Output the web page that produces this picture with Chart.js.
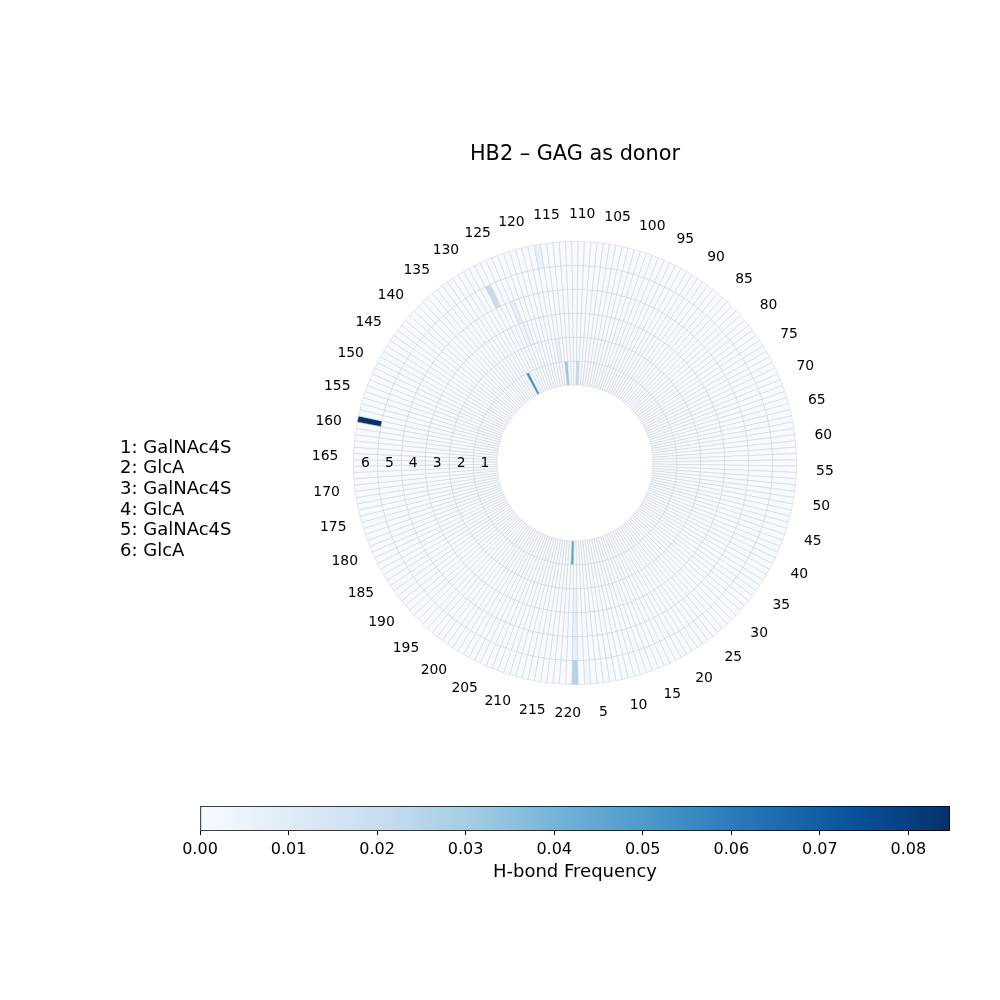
<!DOCTYPE html>
<html><head><meta charset="utf-8">
<script src="https://cdn.jsdelivr.net/npm/chart.js@4.4.1/dist/chart.umd.min.js"></script>
<style>
html,body{margin:0;padding:0;background:#fff;}
#wrap{position:relative;width:1000px;height:1000px;}
canvas{position:absolute;left:0;top:0;}
</style>
</head><body>
<div id="wrap"><canvas id="polar" width="1000" height="1000"></canvas><canvas id="cbar" width="1000" height="1000"></canvas></div>
<script>
// ---------------- data ----------------
const chartTitle = 'HB2 – GAG as donor';
const ringIds = [1, 2, 3, 4, 5, 6];
const ringNames = ['1: GalNAc4S', '2: GlcA', '3: GalNAc4S', '4: GlcA', '5: GalNAc4S', '6: GlcA'];
const nResidues = 220;
const angleTickLabels = [5, 10, 15, 20, 25, 30, 35, 40, 45, 50, 55, 60, 65, 70, 75, 80, 85, 90, 95, 100,
  105, 110, 115, 120, 125, 130, 135, 140, 145, 150, 155, 160, 165, 170, 175, 180, 185, 190, 195, 200,
  205, 210, 215, 220];
// non-zero H-bond frequencies (ring, residue, frequency)
const hitRing    = [6,      1,     1,     5,     4,     3,     1,     1,     6,     2,     3,     6,     5,     4,     3,     6];
const hitResidue = [159,    128,   220,   127,   124,   123,   114,   110,   1,     116,   1,     117,   1,     1,     124,   3];
const hitFreq    = [0.0847, 0.052, 0.046, 0.021, 0.008, 0.004, 0.033, 0.021, 0.026, 0.006, 0.006, 0.006, 0.008, 0.007, 0.004, 0.003];
const freqMax = 0.0847;
const cbarTicks = [0.00, 0.01, 0.02, 0.03, 0.04, 0.05, 0.06, 0.07, 0.08];
const cbarLabel = 'H-bond Frequency';

// ---------------- colormap (matplotlib Blues) ----------------
const BLUES = ['#f7fbff','#deebf7','#c6dbef','#9ecae1','#6baed6','#4292c6','#2171b5','#08519c','#08306b'];
function hexRgb(h){return [parseInt(h.substr(1,2),16),parseInt(h.substr(3,2),16),parseInt(h.substr(5,2),16)];}
function blues(t){
  t = Math.max(0, Math.min(1, t));
  const p = t * 8, i = Math.min(7, Math.floor(p)), f = p - i;
  const a = hexRgb(BLUES[i]), b = hexRgb(BLUES[i+1]);
  const c = a.map((v,k)=>Math.round(v + (b[k]-v)*f));
  return 'rgb(' + c.join(',') + ')';
}

// ---------------- build ----------------
const freqLookup = {};
hitRing.forEach((r, k) => { freqLookup[r + '-' + hitResidue[k]] = hitFreq[k]; });
const residueOrder = [1];
for (let r = nResidues; r >= 2; r--) residueOrder.push(r);

const FONT = '"DejaVu Sans", sans-serif';
const OUTER_R = 221.5, INNER_R = 78;
const ringsOuterFirst = ringIds.slice().reverse();
const datasets = ringsOuterFirst.map(ring => ({
  label: 'Ring ' + ring,
  data: residueOrder.map(() => 1),
  backgroundColor: residueOrder.map(res => blues((freqLookup[ring + '-' + res] || 0) / freqMax)),
  borderColor: '#c9cdd3',
  borderWidth: 0.5
}));

const labelsPlugin = {
  id: 'polarLabels',
  afterDraw(chart) {
    const ctx = chart.ctx;
    ctx.save();
    ctx.fillStyle = '#000';
    ctx.textAlign = 'center';
    ctx.textBaseline = 'middle';
    ctx.font = '13.9px ' + FONT;
    const outer = chart.getDatasetMeta(0);
    angleTickLabels.forEach(lbl => {
      const arc = outer.data[residueOrder.indexOf(lbl)];
      const a = (arc.startAngle + arc.endAngle) / 2;
      const r = arc.outerRadius + 28.5;
      ctx.fillText(String(lbl), arc.x + r * Math.cos(a), arc.y + 1 + r * Math.sin(a));
    });
    ringsOuterFirst.forEach((ring, di) => {
      const arc = chart.getDatasetMeta(di).data[0];
      const r = (arc.innerRadius + arc.outerRadius) / 2;
      ctx.fillText(String(ring), arc.x - r, arc.y);
    });
    ctx.textAlign = 'left';
    ctx.font = '18px ' + FONT;
    ringNames.forEach((n, i) => ctx.fillText(n, 120, 448 + i * 20.7));
    ctx.restore();
  }
};

new Chart(document.getElementById('polar'), {
  type: 'doughnut',
  data: { labels: residueOrder.map(String), datasets },
  options: {
    responsive: false, animation: false, events: [],
    rotation: 180 - 180 / nResidues,
    radius: OUTER_R,
    cutout: (INNER_R / OUTER_R * 100) + '%',
    layout: { padding: { left: 350, right: 200, top: 138.5, bottom: 281.5 } },
    plugins: {
      legend: { display: false }, tooltip: { enabled: false },
      title: { display: true, text: chartTitle, color: '#000',
        font: { family: FONT, size: 20.8, weight: 'normal' }, padding: { top: 4, bottom: 40 } }
    }
  },
  plugins: [labelsPlugin]
});

// ---------------- colorbar ----------------
new Chart(document.getElementById('cbar'), {
  type: 'bar',
  data: { labels: ['cb'], datasets: [{
    data: [[0, freqMax]],
    backgroundColor: (c) => {
      const ca = c.chart.chartArea;
      if (!ca) return BLUES[0];
      const g = c.chart.ctx.createLinearGradient(ca.left, 0, ca.right, 0);
      BLUES.forEach((col, i) => g.addColorStop(i / 8, col));
      return g;
    },
    borderColor: '#000', borderWidth: 1, borderSkipped: false,
    barPercentage: 1, categoryPercentage: 1
  }]},
  options: {
    indexAxis: 'y', responsive: false, animation: false, events: [],
    layout: { padding: { left: 200, right: 50, top: 806, bottom: 109 } },
    plugins: { legend: { display: false }, tooltip: { enabled: false } },
    scales: {
      y: { display: false },
      x: {
        min: 0, max: freqMax,
        afterBuildTicks: (s) => { s.ticks = cbarTicks.map(v => ({ value: v })); },
        afterFit: (s) => { s.height = 60; },
        ticks: { callback: (v) => Number(v).toFixed(2), color: '#000', font: { family: FONT, size: 16 },
          padding: 5, maxRotation: 0, autoSkip: false },
        grid: { drawOnChartArea: false, drawTicks: true, tickLength: 4, color: '#000' },
        border: { display: false },
        title: { display: true, text: cbarLabel, color: '#000', font: { family: FONT, size: 18 },
          padding: { top: 2, bottom: 8 } }
      }
    }
  }
});
</script>
</body></html>
